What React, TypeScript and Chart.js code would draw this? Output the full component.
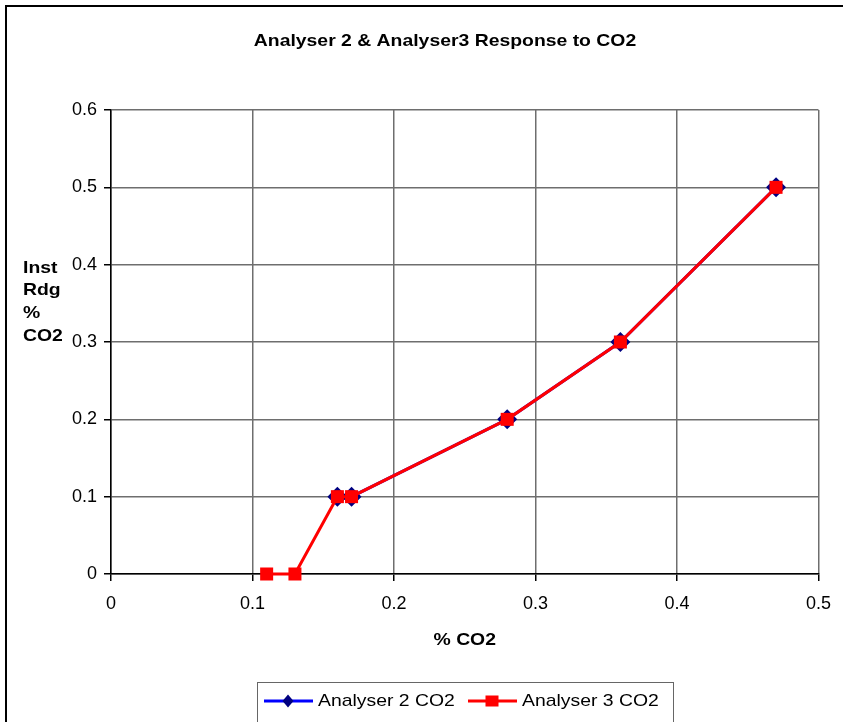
import React, { useEffect, useRef } from "react";
import { Chart, registerables } from "chart.js";

Chart.register(...registerables);

const chartTitle = "Analyser 2 & Analyser3 Response to CO2";
const xAxisTitle = "% CO2";
const yAxisTitleLines = ["Inst", "Rdg", "%", "CO2"];
const seriesNames = ["Analyser 2 CO2", "Analyser 3 CO2"];

const analyser2X = [0.16, 0.17, 0.28, 0.36, 0.47];
const analyser2Y = [0.1, 0.1, 0.2, 0.3, 0.5];
const analyser3X = [0.11, 0.13, 0.16, 0.17, 0.28, 0.36, 0.47];
const analyser3Y = [0, 0, 0.1, 0.1, 0.2, 0.3, 0.5];

const xMin = 0;
const xMax = 0.5;
const yMin = 0;
const yMax = 0.6;
const tickStep = 0.1;

const FONT = "Arial, 'Liberation Sans', sans-serif";
const STRETCH = 1.14;

const fmt = (v: number | string) => {
  const n = Number(v);
  return Math.abs(n) < 1e-9 ? "0" : n.toFixed(1);
};

function stretchedText(
  ctx: CanvasRenderingContext2D,
  text: string,
  x: number,
  y: number,
  align: "left" | "center"
) {
  ctx.save();
  ctx.translate(x, y);
  ctx.scale(STRETCH, 1);
  ctx.textAlign = align;
  ctx.textBaseline = "middle";
  ctx.fillText(text, 0, 0);
  ctx.restore();
}

const decorPlugin = {
  id: "decor",
  afterDraw(chart: any) {
    const ctx = chart.ctx as CanvasRenderingContext2D;
    const area = chart.chartArea;
    ctx.save();
    // outer border (left + top visible)
    ctx.strokeStyle = "#000";
    ctx.lineWidth = 2;
    ctx.beginPath();
    ctx.moveTo(6, 722);
    ctx.lineTo(6, 6);
    ctx.lineTo(843, 6);
    ctx.stroke();

    ctx.fillStyle = "#000";
    ctx.font = `bold 17px ${FONT}`;
    stretchedText(ctx, chartTitle, 445, 41, "center");
    stretchedText(ctx, xAxisTitle, (area.left + area.right) / 2, 640, "center");
    yAxisTitleLines.forEach((t, i) => {
      stretchedText(ctx, t, 23, 268 + i * 22.7, "left");
    });

    // legend
    const lx = 257, ly = 682, lw = 416;
    ctx.strokeStyle = "#666";
    ctx.lineWidth = 1;
    ctx.strokeRect(lx + 0.5, ly + 0.5, lw, 60);
    const rowY = 701;
    ctx.strokeStyle = "#0000ff";
    ctx.lineWidth = 3;
    ctx.beginPath();
    ctx.moveTo(264, rowY);
    ctx.lineTo(313, rowY);
    ctx.stroke();
    ctx.fillStyle = "#000080";
    ctx.beginPath();
    ctx.moveTo(288, rowY - 6.5);
    ctx.lineTo(293.5, rowY);
    ctx.lineTo(288, rowY + 6.5);
    ctx.lineTo(282.5, rowY);
    ctx.closePath();
    ctx.fill();
    ctx.strokeStyle = "#ff0000";
    ctx.beginPath();
    ctx.moveTo(468, rowY);
    ctx.lineTo(517, rowY);
    ctx.stroke();
    ctx.fillStyle = "#ff0000";
    ctx.fillRect(485.5, rowY - 5.5, 13, 11);

    ctx.fillStyle = "#000";
    ctx.font = `17px ${FONT}`;
    stretchedText(ctx, seriesNames[0], 318, rowY, "left");
    stretchedText(ctx, seriesNames[1], 522, rowY, "left");
    ctx.restore();
  },
};

export default function App() {
  const ref = useRef<HTMLCanvasElement | null>(null);

  useEffect(() => {
    if (!ref.current) return;
    const chart = new Chart(ref.current, {
      type: "scatter",
      data: {
        datasets: [
          {
            label: seriesNames[1],
            data: analyser3X.map((x, i) => ({ x, y: analyser3Y[i] })),
            showLine: true,
            clip: false,
            borderColor: "#ff0000",
            backgroundColor: "#ff0000",
            borderWidth: 3,
            pointStyle: "rect",
            pointRadius: 9.2,
            pointBorderWidth: 0,
            pointBackgroundColor: "#ff0000",
            order: 0,
          },
          {
            label: seriesNames[0],
            data: analyser2X.map((x, i) => ({ x, y: analyser2Y[i] })),
            showLine: true,
            clip: false,
            borderColor: "#0000ff",
            backgroundColor: "#000080",
            borderWidth: 3,
            pointStyle: "rectRot",
            pointRadius: 10,
            pointBorderWidth: 0,
            pointBackgroundColor: "#000080",
            order: 1,
          },
        ],
      },
      options: {
        animation: false,
        responsive: false,
        maintainAspectRatio: false,
        layout: { padding: { top: 110, right: 23, left: 0, bottom: 0 } },
        plugins: {
          legend: { display: false },
          title: { display: false },
          tooltip: { enabled: false },
        },
        scales: {
          x: {
            type: "linear",
            min: xMin,
            max: xMax,
            afterFit: (s: any) => {
              s.height = 148;
            },
            ticks: {
              stepSize: tickStep,
              color: "#000",
              font: { family: FONT, size: 18 },
              padding: 12,
              maxRotation: 0,
              callback: (v: any) => fmt(v),
            },
            grid: {
              color: "#6e6e6e",
              lineWidth: 1.5,
              tickLength: 7,
              tickColor: "#000",
            },
            border: { color: "#000", width: 1.5 },
          },
          y: {
            type: "linear",
            min: yMin,
            max: yMax,
            afterFit: (s: any) => {
              s.width = 111;
            },
            ticks: {
              stepSize: tickStep,
              color: "#000",
              font: { family: FONT, size: 18 },
              padding: 7,
              callback: (v: any) => fmt(v),
            },
            grid: {
              color: "#6e6e6e",
              lineWidth: 1.5,
              tickLength: 7,
              tickColor: "#000",
            },
            border: { color: "#000", width: 1.5 },
          },
        },
      },
      plugins: [decorPlugin],
    });
    return () => chart.destroy();
  }, []);

  return (
    <div style={{ position: "absolute", left: 0, top: 0, width: 843, height: 722, background: "#fff" }}>
      <canvas ref={ref} width={843} height={722} style={{ display: "block" }} />
    </div>
  );
}
